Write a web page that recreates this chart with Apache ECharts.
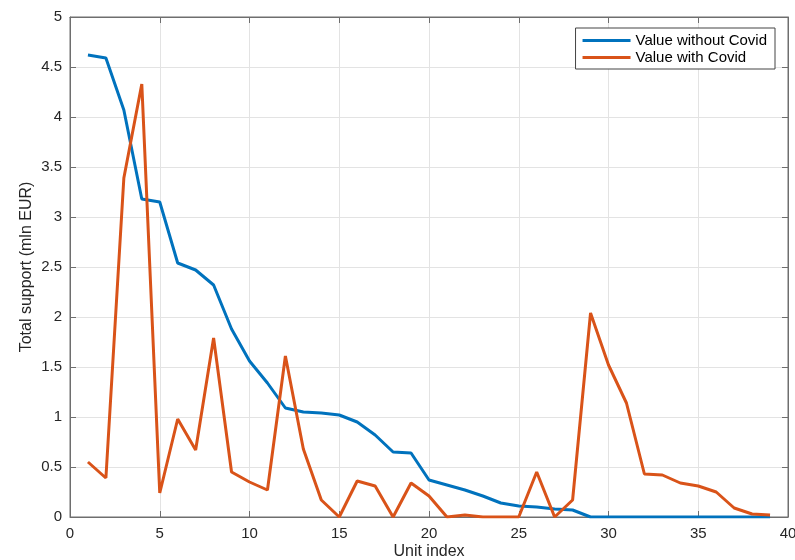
<!DOCTYPE html>
<html>
<head>
<meta charset="utf-8">
<script src="https://cdn.jsdelivr.net/npm/echarts@6/dist/echarts.min.js"></script>
<style>html,body{margin:0;padding:0;background:#fff;}#c{width:795px;height:560px;}</style>
</head>
<body>
<div id="c"></div>
<script>
const unitIndex = [1,2,3,4,5,6,7,8,9,10,11,12,13,14,15,16,17,18,19,20,21,22,23,24,25,26,27,28,29,30,31,32,33,34,35,36,37,38,39];
const valueWithoutCovid = [4.62,4.59,4.07,3.18,3.15,2.54,2.47,2.32,1.88,1.56,1.34,1.09,1.05,1.04,1.02,0.95,0.82,0.65,0.64,0.37,0.32,0.27,0.21,0.14,0.11,0.10,0.08,0.07,0,0,0,0,0,0,0,0,0,0,0];
const valueWithCovid = [0.55,0.39,3.39,4.33,0.24,0.98,0.67,1.79,0.45,0.35,0.27,1.61,0.68,0.17,0,0.36,0.31,0,0.34,0.21,0,0.02,0,0,0,0.45,0,0.17,2.04,1.52,1.14,0.43,0.42,0.34,0.31,0.25,0.09,0.03,0.02];
const seriesNames = ['Value without Covid','Value with Covid'];
const xTicks = {min:0, max:40, interval:5};
const yTicks = {min:0, max:5, interval:0.5};

const axisColor = '#6e6e6e';
const textColor = '#262626';
const font = 'Liberation Sans, Arial, Helvetica, sans-serif';
const chart = echarts.init(document.getElementById('c'), null, {renderer:'canvas'});
const mkPairs = (ys) => unitIndex.map((x,i)=>[x, ys[i]]);
const baseAxisLine = {show:true, onZero:false, lineStyle:{color:axisColor, width:1}};
const tick = {show:true, inside:true, length:6, lineStyle:{color:axisColor}};
chart.setOption({
  animation:false,
  backgroundColor:'#fff',
  grid:{left:70, right:7, top:17, bottom:43, containLabel:false, outerBoundsMode:'none',
        show:true, borderColor:axisColor, borderWidth:1, backgroundColor:'transparent'},
  legend:{
    data:seriesNames, orient:'vertical', right:20, top:28,
    icon:'rect', itemWidth:48, itemHeight:3, itemGap:2,
    backgroundColor:'#fff', borderColor:'#444', borderWidth:1,
    padding:[5,8,4,7],
    textStyle:{fontFamily:font, fontSize:15, color:'#000'}
  },
  xAxis:[{
    type:'value', min:xTicks.min, max:xTicks.max, interval:xTicks.interval,
    name:'Unit index', nameLocation:'middle', nameGap:27, nameMoveOverlap:false,
    nameTextStyle:{fontFamily:font, fontSize:16, color:textColor},
    axisLine:baseAxisLine, axisTick:tick,
    axisLabel:{fontFamily:font, fontSize:15, color:textColor, margin:9},
    splitLine:{show:true, lineStyle:{color:'#e3e3e3', width:1}}
  },{
    type:'value', position:'top', min:xTicks.min, max:xTicks.max, interval:xTicks.interval,
    axisLine:baseAxisLine, axisTick:tick, axisLabel:{show:false}, splitLine:{show:false}
  }],
  yAxis:[{
    type:'value', min:yTicks.min, max:yTicks.max, interval:yTicks.interval,
    name:'Total support (mln EUR)', nameLocation:'middle', nameGap:35, nameRotate:90, nameMoveOverlap:false,
    nameTextStyle:{fontFamily:font, fontSize:16, color:textColor},
    axisLine:baseAxisLine, axisTick:tick,
    axisLabel:{fontFamily:font, fontSize:15, color:textColor, margin:8},
    splitLine:{show:true, lineStyle:{color:'#e3e3e3', width:1}}
  },{
    type:'value', position:'right', min:yTicks.min, max:yTicks.max, interval:yTicks.interval,
    axisLine:baseAxisLine, axisTick:tick, axisLabel:{show:false}, splitLine:{show:false}
  }],
  series:[{
    name:seriesNames[0], type:'line', data:mkPairs(valueWithoutCovid),
    symbol:'none', lineStyle:{color:'#0072BD', width:3}, itemStyle:{color:'#0072BD'}, z:3
  },{
    name:seriesNames[1], type:'line', data:mkPairs(valueWithCovid),
    symbol:'none', lineStyle:{color:'#D95319', width:3}, itemStyle:{color:'#D95319'}, z:4
  },{
    name:'frame', type:'line', xAxisIndex:1, yAxisIndex:1, data:mkPairs(valueWithCovid),
    symbol:'none', silent:true, lineStyle:{opacity:0}, itemStyle:{opacity:0}, z:0
  }]
});
</script>
</body>
</html>
